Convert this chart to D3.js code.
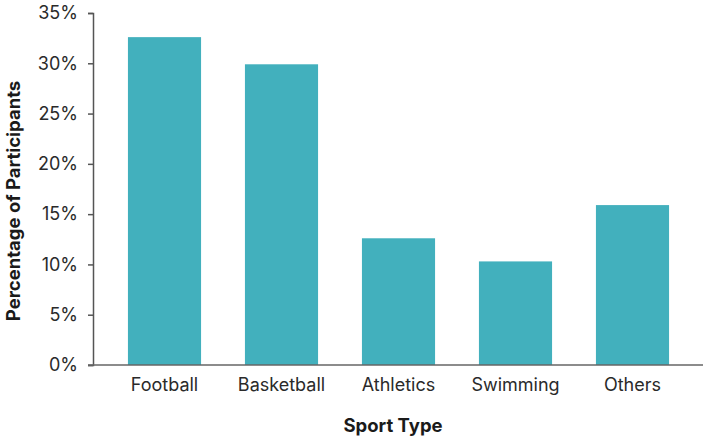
<!DOCTYPE html>
<html>
<head>
<meta charset="utf-8">
<script src="https://cdn.jsdelivr.net/npm/d3@7"></script>
<style>
  body { margin: 0; background: #fff; }
  svg text { font-family: "Inter", "Liberation Sans", sans-serif; }
  .tick text { fill: #2a2a2a; font-size: 18px; }
  .axis-title { font-size: 18.5px; font-weight: 700; fill: #1a1a1a; }
</style>
</head>
<body>
<svg id="chart" width="709" height="441"></svg>
<script>
// sport categories and share of participants (%)
var sports = ["Football", "Basketball", "Athletics", "Swimming", "Others"];
var shares = [32.6, 29.9, 12.6, 10.3, 15.9];
var yTicks = [0, 5, 10, 15, 20, 25, 30, 35];

var svg = d3.select('#chart');

// plot edges, px (not "top": that name is taken by window.top)
var plotLeft = 93, plotRight = 703, plotTop = 13, plotBottom = 365;

var x = d3.scaleBand()
  .domain(sports)
  .range([106, 691])
  .paddingInner(0.375)
  .paddingOuter(0.1875);

var y = d3.scaleLinear().domain([0, 35]).range([plotBottom, plotTop]);

// bars
svg.append('g').selectAll('rect').data(sports)
  .enter().append('rect')
    .attr('x', function(d) { return x(d); })
    .attr('y', function(d, i) { return y(shares[i]); })
    .attr('width', x.bandwidth())
    .attr('height', function(d, i) { return plotBottom - y(shares[i]); })
    .attr('fill', '#42b0bd');

// y axis
var yAxis = svg.append('g')
  .attr('transform', 'translate(' + plotLeft + ',0)')
  .call(d3.axisLeft(y).tickValues(yTicks).tickSize(5).tickPadding(10)
    .tickFormat(function(d) { return d + '%'; }));
yAxis.select('.domain').attr('stroke', '#555').attr('stroke-width', 1.5);
yAxis.selectAll('.tick line').attr('stroke', '#555').attr('stroke-width', 1.5);

// x axis baseline
svg.append('line')
  .attr('x1', plotLeft - 5).attr('x2', plotRight)
  .attr('y1', plotBottom).attr('y2', plotBottom)
  .attr('stroke', '#666').attr('stroke-width', 1.5);

var xAxis = svg.append('g')
  .attr('transform', 'translate(0,' + plotBottom + ')')
  .call(d3.axisBottom(x).tickSize(0).tickPadding(13));
xAxis.select('.domain').remove();

// axis titles
svg.append('text')
  .attr('class', 'axis-title')
  .attr('x', 393).attr('y', 432)
  .attr('text-anchor', 'middle')
  .text('Sport Type');

svg.append('text')
  .attr('class', 'axis-title')
  .attr('transform', 'translate(20,201) rotate(-90)')
  .attr('text-anchor', 'middle')
  .text('Percentage of Participants');
</script>
</body>
</html>
